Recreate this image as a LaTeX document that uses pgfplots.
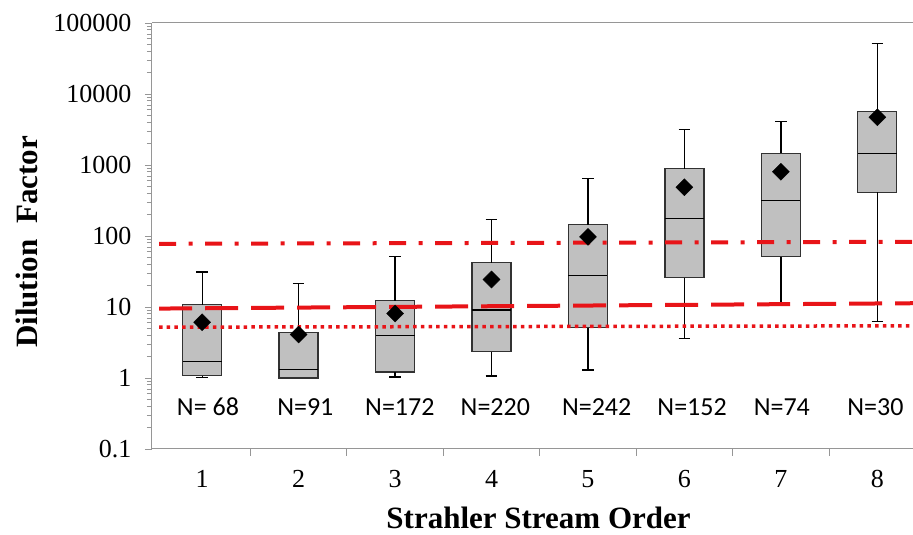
\documentclass[border=0pt]{standalone}
\usepackage{pgfplots}
\pgfplotsset{compat=1.18}
\usepackage{fontspec}
\setmainfont{Liberation Serif}
\newfontfamily\calibri{Carlito}
\definecolor{lnred}{RGB}{232,20,24}
\definecolor{boxgray}{RGB}{192,192,192}
\definecolor{axgray}{RGB}{150,150,150}
\definecolor{boxedge}{RGB}{50,50,50}
\begin{document}
\begin{tikzpicture}
\begin{axis}[
  scale only axis, width=761pt, height=426pt,
  xmin=0.48, xmax=8.37,
  ymode=log, ymin=0.1, ymax=100000,
  axis x line=box, axis y line=left,
  axis line style={axgray, line width=1pt, -},
  every outer x axis line/.append style={-},
  every outer y axis line/.append style={-},
  xtick pos=bottom, ytick pos=left,
  tick align=outside,
  tick style={axgray, line width=0.9pt},
  major tick length=7pt, minor tick length=5pt,
  xtick={1.5,2.5,3.5,4.5,5.5,6.5,7.5},
  xticklabels={},
  extra x ticks={1,2,3,4,5,6,7,8},
  extra x tick labels={1,2,3,4,5,6,7,8},
  extra x tick style={major tick length=0pt},
  ytick={0.1,1,10,100,1000,10000,100000},
  yticklabels={0.1,1,10,100,1000,10000,100000},
  /pgf/number format/assume math mode=true,
  ticklabel style={font=\fontsize{26}{30}\selectfont, text=black},
  xticklabel style={yshift=-18pt},
  yticklabel style={xshift=-10pt},
  xlabel={Strahler Stream Order},
  ylabel={Dilution\ \ Factor},
  label style={font=\fontsize{31}{36}\selectfont\bfseries, text=black},
  xlabel style={at={(axis description cs:0.508,-0.187)}, anchor=base},
  ylabel style={at={(axis description cs:-0.165,0.486)}, anchor=center},
  clip=true,
]
\coordinate (ll) at (rel axis cs:0,0);
\coordinate (ur) at (rel axis cs:1,1);

% boxes (q1 to q3)
\pgfplotsset{bx/.style={fill=boxgray, draw=boxedge, line width=1.3pt}}
\addplot[bx] coordinates {(0.7975,1.08) (1.2025,1.08) (1.2025,10.8) (0.7975,10.8)} -- cycle;
\addplot[bx] coordinates {(1.7975,1.0) (2.2025,1.0) (2.2025,4.4) (1.7975,4.4)} -- cycle;
\addplot[bx] coordinates {(2.7975,1.22) (3.2025,1.22) (3.2025,12.3) (2.7975,12.3)} -- cycle;
\addplot[bx] coordinates {(3.7975,2.34) (4.2025,2.34) (4.2025,42) (3.7975,42)} -- cycle;
\addplot[bx] coordinates {(4.7975,5.1) (5.2025,5.1) (5.2025,144) (4.7975,144)} -- cycle;
\addplot[bx] coordinates {(5.7975,25.8) (6.2025,25.8) (6.2025,884) (5.7975,884)} -- cycle;
\addplot[bx] coordinates {(6.7975,51) (7.2025,51) (7.2025,1452) (6.7975,1452)} -- cycle;
\addplot[bx] coordinates {(7.7975,414) (8.2025,414) (8.2025,5670) (7.7975,5670)} -- cycle;

% medians
\addplot[black, line width=1.3pt, unbounded coords=jump] coordinates {
(0.7975,1.72) (1.2025,1.72) (nan,nan)
(1.7975,1.32) (2.2025,1.32) (nan,nan)
(2.7975,4.0) (3.2025,4.0) (nan,nan)
(3.7975,9.1) (4.2025,9.1) (nan,nan)
(4.7975,28) (5.2025,28) (nan,nan)
(5.7975,175) (6.2025,175) (nan,nan)
(6.7975,313) (7.2025,313) (nan,nan)
(7.7975,1466) (8.2025,1466)
};

% whiskers
\addplot[black, line width=1.3pt, unbounded coords=jump] coordinates {
(1,10.8) (1,31) (nan,nan) (0.94,31) (1.06,31) (nan,nan)
(1,1.08) (1,1.02) (nan,nan) (0.94,1.02) (1.06,1.02) (nan,nan)
(2,4.4) (2,21.4) (nan,nan) (1.94,21.4) (2.06,21.4) (nan,nan)
(3,12.3) (3,51) (nan,nan) (2.94,51) (3.06,51) (nan,nan)
(3,1.22) (3,1.03) (nan,nan) (2.94,1.03) (3.06,1.03) (nan,nan)
(4,42) (4,172) (nan,nan) (3.94,172) (4.06,172) (nan,nan)
(4,2.34) (4,1.07) (nan,nan) (3.94,1.07) (4.06,1.07) (nan,nan)
(5,144) (5,645) (nan,nan) (4.94,645) (5.06,645) (nan,nan)
(5,5.1) (5,1.29) (nan,nan) (4.94,1.29) (5.06,1.29) (nan,nan)
(6,884) (6,3170) (nan,nan) (5.94,3170) (6.06,3170) (nan,nan)
(6,25.8) (6,3.6) (nan,nan) (5.94,3.6) (6.06,3.6) (nan,nan)
(7,1452) (7,4140) (nan,nan) (6.94,4140) (7.06,4140) (nan,nan)
(7,51) (7,11.1) (nan,nan) (6.94,11.1) (7.06,11.1) (nan,nan)
(8,5670) (8,50900) (nan,nan) (7.94,50900) (8.06,50900) (nan,nan)
(8,414) (8,6.25) (nan,nan) (7.94,6.25) (8.06,6.25)
};

% reference lines
\addplot[lnred, line width=4pt, dash pattern=on 17pt off 12.5pt on 4pt off 12.5pt] coordinates {(0.553,77.6) (8.37,82.8)};
\addplot[lnred, line width=4pt, dash pattern=on 33pt off 13pt] coordinates {(0.553,9.5) (8.37,11.3)};
\addplot[lnred, line width=3.5pt, dash pattern=on 3.5pt off 4.2pt] coordinates {(0.553,5.2) (8.37,5.43)};

% means
\addplot[only marks, mark=square*, mark size=6pt, mark options={rotate=45, fill=black, draw=black}] coordinates {
(1,6.1) (2,4.1) (3,8.1) (4,24.4) (5,97) (6,487) (7,802) (8,4700)};

% N labels
\begin{scope}[every node/.style={font=\calibri\fontsize{26}{30}\selectfont, anchor=center, inner sep=0pt}]
\node at (axis cs:1.06,0.39) {N= 68};
\node at (axis cs:2.07,0.39) {N=91};
\node at (axis cs:3.05,0.39) {N=172};
\node at (axis cs:4.04,0.39) {N=220};
\node at (axis cs:5.09,0.39) {N=242};
\node at (axis cs:6.08,0.39) {N=152};
\node at (axis cs:7.01,0.39) {N=74};
\node at (axis cs:7.98,0.39) {N=30};
\end{scope}
\end{axis}
\pgfresetboundingbox
\useasboundingbox ([xshift=-152pt,yshift=-86pt]ll) rectangle ([yshift=23pt]ur);
\end{tikzpicture}
\end{document}
